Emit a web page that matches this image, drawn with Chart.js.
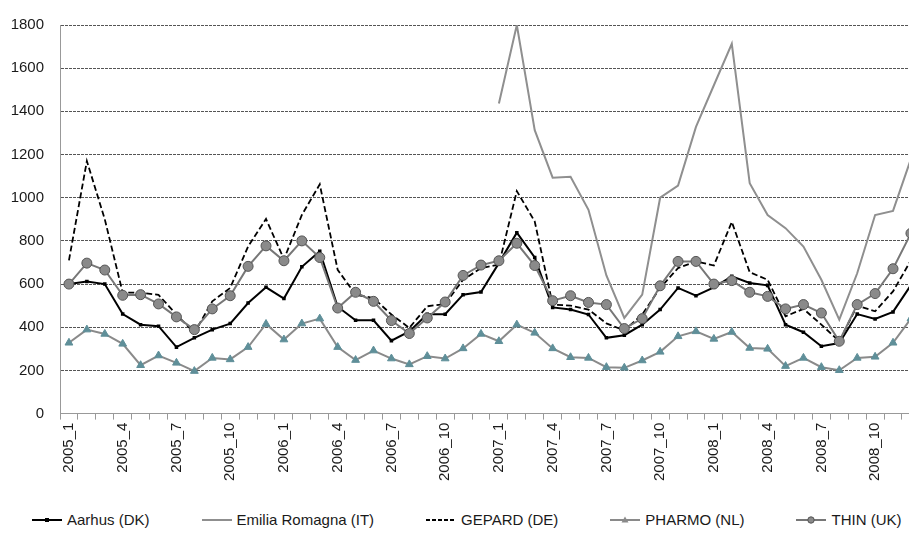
<!DOCTYPE html>
<html>
<head>
<meta charset="utf-8">
<script src="https://cdn.jsdelivr.net/npm/chart.js@4"></script>
<style>
  html, body { margin: 0; padding: 0; background: #fff; overflow: hidden; }
  body { width: 909px; height: 550px; position: relative; }
  #wrap { position: absolute; left: 0; top: 0; width: 932px; height: 485px; }
  #legend { position: absolute; left: 32px; top: 511px; display: flex; align-items: center; gap: 52px;
            font: 15px "Liberation Sans", Arial, sans-serif; color: #1a1a1a; white-space: nowrap; }
  .item { display: flex; align-items: center; }
  .item svg { margin-right: 5px; }
</style>
</head>
<body>
<div id="wrap"><canvas id="chart" width="932" height="485"></canvas></div>
<div id="legend"></div>
<script>
const months = [
  '2005_1','2005_2','2005_3','2005_4','2005_5','2005_6','2005_7','2005_8','2005_9','2005_10','2005_11','2005_12',
  '2006_1','2006_2','2006_3','2006_4','2006_5','2006_6','2006_7','2006_8','2006_9','2006_10','2006_11','2006_12',
  '2007_1','2007_2','2007_3','2007_4','2007_5','2007_6','2007_7','2007_8','2007_9','2007_10','2007_11','2007_12',
  '2008_1','2008_2','2008_3','2008_4','2008_5','2008_6','2008_7','2008_8','2008_9','2008_10','2008_11','2008_12'
];
const xTickLabels = ['2005_1','2005_4','2005_7','2005_10','2006_1','2006_4','2006_7','2006_10',
  '2007_1','2007_4','2007_7','2007_10','2008_1','2008_4','2008_7','2008_10'];

const aarhus = [600,612,600,461,412,405,308,351,389,417,512,585,533,680,752,495,432,432,338,381,460,460,551,563,
                697,838,723,492,482,459,351,363,412,482,582,546,585,636,605,594,412,377,312,327,461,438,471,595];
const emilia = [null,null,null,null,null,null,null,null,null,null,null,null,null,null,null,null,null,null,null,null,null,null,null,null,
                1436,1800,1313,1093,1097,944,640,443,551,1000,1056,1328,1521,1713,1067,920,859,774,620,435,650,920,939,1180];
const gepard = [710,1170,900,560,560,550,459,374,520,582,774,902,715,920,1062,666,551,535,459,397,497,508,620,674,
                690,1031,890,505,500,482,418,385,459,582,674,705,686,888,655,620,451,485,412,335,500,474,566,710];
const pharmo = [328,389,369,323,224,269,235,197,258,251,308,415,343,417,440,308,248,292,255,228,266,255,302,369,
                335,412,374,302,261,258,215,212,246,286,358,381,346,378,304,300,220,258,215,201,258,263,328,440];
const thin   = [600,697,665,548,551,508,448,389,485,546,682,777,708,800,723,489,562,520,431,371,443,517,640,688,
                708,789,686,523,546,515,505,394,440,592,705,705,600,616,562,543,485,505,466,335,505,556,671,835];

const yMax = 1800;
const yStep = 200;

Chart.defaults.font.family = '"Liberation Sans", Arial, sans-serif';
Chart.defaults.font.size = 15;
Chart.defaults.color = '#1a1a1a';

const datasets = [
  { label: 'Aarhus (DK)', data: aarhus, borderColor: '#000', backgroundColor: '#000', borderWidth: 2,
    pointStyle: 'rect', pointRadius: 2.5, pointBorderWidth: 0, order: 5 },
  { label: 'Emilia Romagna (IT)', data: emilia, borderColor: '#8f8f8f', borderWidth: 2, pointRadius: 0, order: 4 },
  { label: 'GEPARD (DE)', data: gepard, borderColor: '#000', borderWidth: 1.8, borderDash: [6, 3], pointRadius: 0, order: 3 },
  { label: 'PHARMO (NL)', data: pharmo, borderColor: '#8a8a8a', borderWidth: 2, pointStyle: 'triangle', pointRadius: 4.5,
    pointBackgroundColor: '#5f8f99', pointBorderColor: '#5f8f99', pointBorderWidth: 1, order: 2 },
  { label: 'THIN (UK)', data: thin, borderColor: '#777', borderWidth: 2, pointStyle: 'circle', pointRadius: 5,
    pointBackgroundColor: '#8a8a8a', pointBorderColor: '#555', pointBorderWidth: 1, order: 1 }
];

const chart = new Chart(document.getElementById('chart').getContext('2d'), {
  type: 'line',
  data: { labels: months, datasets: datasets },
  options: {
    responsive: false,
    animation: false,
    layout: { padding: { left: 11, top: 23, right: 2, bottom: 1 } },
    plugins: { legend: { display: false }, tooltip: { enabled: false } },
    scales: {
      x: {
        offset: true,
        grid: { offset: true, drawOnChartArea: false, drawTicks: true, tickLength: 6, tickColor: '#999' },
        border: { color: '#999' },
        ticks: {
          autoSkip: false, maxRotation: 90, minRotation: 90, padding: 3,
          callback: (v, i) => xTickLabels.includes(months[i]) ? months[i] : ''
        }
      },
      y: {
        min: 0, max: yMax,
        afterFit: scale => { scale.width = 49; },
        ticks: { stepSize: yStep, padding: 16, callback: v => String(v) },
        grid: { drawTicks: false, lineWidth: 1, color: c => c.tick.value === 0 ? 'rgba(0,0,0,0)' : '#555' },
        border: { color: '#999', dash: [3, 1] }
      }
    }
  }
});

// legend built from the dataset styles
const legend = document.getElementById('legend');
chart.data.datasets.forEach(ds => {
  let mark = '';
  if (ds.pointStyle === 'rect') mark = '<rect x="13" y="4" width="4" height="4" fill="' + ds.backgroundColor + '"/>';
  if (ds.pointStyle === 'triangle') mark = '<polygon points="15,2.5 18.5,8.5 11.5,8.5" fill="#8a8a8a"/>';
  if (ds.pointStyle === 'circle') mark = '<circle cx="15" cy="6" r="3.2" fill="' + ds.pointBackgroundColor + '" stroke="' + ds.pointBorderColor + '"/>';
  const dash = ds.borderDash ? ' stroke-dasharray="4,2"' : '';
  const item = document.createElement('div');
  item.className = 'item';
  item.innerHTML = '<svg width="30" height="12"><line x1="0" y1="6" x2="30" y2="6" stroke="' + ds.borderColor +
    '" stroke-width="2"' + dash + '/>' + mark + '</svg><span>' + ds.label + '</span>';
  legend.appendChild(item);
});
</script>
</body>
</html>
